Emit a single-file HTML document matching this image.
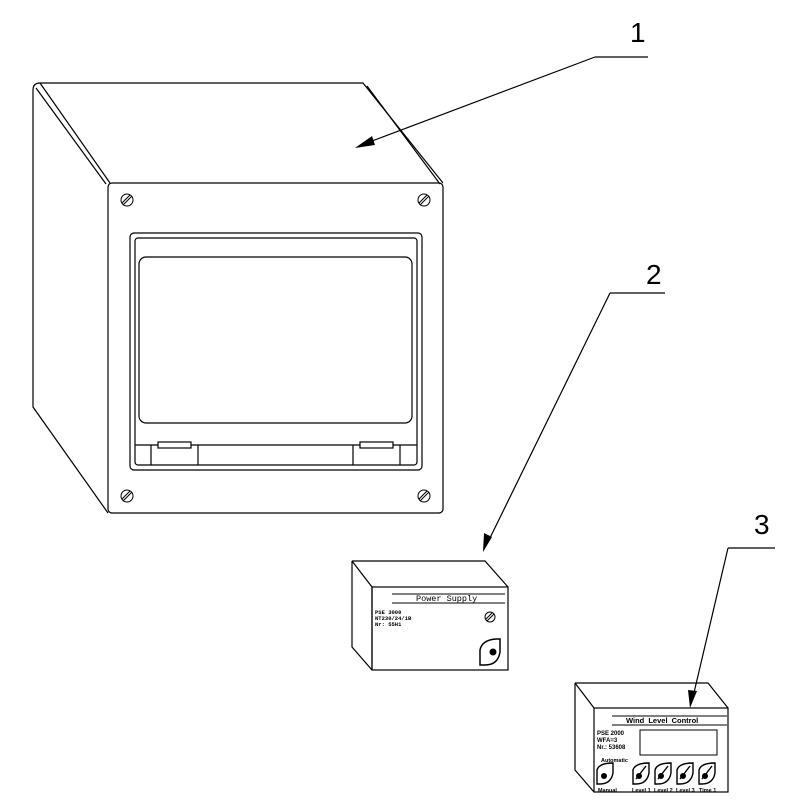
<!DOCTYPE html>
<html><head><style>body{margin:0;background:#fff}svg{display:block}</style></head><body>
<svg width="800" height="800" viewBox="0 0 800 800" xmlns="http://www.w3.org/2000/svg" font-family="Liberation Sans, sans-serif">
<g fill="none" stroke="#000" stroke-width="1.2">
<path d="M33,90 Q33,83 40,83 L363,83 L443,183"/>
<path d="M40,83 L110,183"/>
<path d="M36,88 L106,184"/>
<path d="M367,86 L440,184"/>
<path d="M33,90 L33,407 L108,513"/>
<rect x="108" y="183" width="335" height="330" rx="4"/>
<rect x="130" y="233" width="292" height="237" rx="4"/>
<rect x="135" y="238" width="282" height="227" rx="3"/>
<rect x="139" y="257" width="273" height="166" rx="7"/>
<path d="M135,445 L417,445 M151,445 L151,465 M198,445 L198,465 M353,445 L353,465 M400,445 L400,465"/>
<rect x="158" y="442" width="33" height="6" fill="#fff"/>
<rect x="360" y="442" width="33" height="6" fill="#fff"/>
<g stroke-width="1">
<circle cx="127" cy="200" r="6"/><path d="M123,205 L132,196 M122,203 L130,195"/>
<circle cx="424" cy="200" r="6"/><path d="M420,205 L429,196 M419,203 L427,195"/>
<circle cx="127" cy="496" r="6"/><path d="M123,501 L132,492 M122,499 L130,491"/>
<circle cx="424" cy="496" r="6"/><path d="M420,501 L429,492 M419,499 L427,491"/>
</g>
<path d="M595,57 L648,57 M595,57 L372,141"/>
<path d="M610,293 L665,293 M610,293 L487,544"/>
<path d="M728,548 L775,548 M728,548 L693,697"/>
<path d="M352,561 L485,561 L508,587 M352,561 L372,587 L372,670 M352,561 L352,647 L372,670"/>
<rect x="372" y="587" width="136" height="83"/>
<path d="M392,594 L505,594 M392,603 L505,603" stroke-width="1"/>
<circle cx="490" cy="617" r="5" stroke-width="1"/><path d="M487,621 L494,614 M486,619 L492,613" stroke-width="1"/>
<path d="M480,665 L480,650 Q482,640 496,639 L500,639 L500,652 Q498,665 485,665 Z" stroke-width="1.5"/>
<path d="M575,683 L708,683 L728,708 M575,683 L594,708 M575,683 L575,770 L594,792"/>
<rect x="594" y="708" width="134" height="84"/>
<path d="M612,716 L727,716 M612,725 L727,725" stroke-width="1"/>
<rect x="640" y="730" width="77" height="25" stroke-width="1"/>
</g>
<g fill="#000">
<polygon points="355,148 372,136 375,145"/>
<polygon points="483,552 484,533 492,537"/>
<polygon points="690,708 688,690 697,691"/>
<circle cx="493" cy="652" r="3.5"/>
</g>
<g stroke="#000" stroke-width="1.4" fill="none">
<path d="M597,784 L597,770 Q599,763 613,763 L613,773 Q611,784 600,784 Z"/>
<path d="M633,784 L633,770 Q635,763 649,763 L649,773 Q647,784 636,784 Z M636,779 L646,766"/>
<path d="M655,784 L655,770 Q657,763 671,763 L671,773 Q669,784 658,784 Z M658,779 L668,766"/>
<path d="M677,784 L677,770 Q679,763 693,763 L693,773 Q691,784 680,784 Z M680,779 L690,766"/>
<path d="M699,784 L699,770 Q701,763 715,763 L715,773 Q713,784 702,784 Z M702,779 L712,766"/>
</g>
<g fill="#000">
<circle cx="604" cy="776" r="3"/><circle cx="639" cy="776" r="3"/><circle cx="661" cy="776" r="3"/><circle cx="683" cy="776" r="3"/><circle cx="705" cy="776" r="3"/>
</g>
<g fill="#000" font-size="28">
<text x="630" y="42">1</text>
<text x="646" y="284">2</text>
<text x="754" y="534">3</text>
</g>
<g fill="#000" font-family="Liberation Mono, monospace">
<text x="416" y="601" font-size="8.5">Power Supply</text>
<text x="375" y="614" font-size="5.5" font-weight="bold">PSE 3000</text>
<text x="375" y="620" font-size="5.5" font-weight="bold">NT230/24/1B</text>
<text x="375" y="626" font-size="5.5" font-weight="bold">Nr: 55H1</text>
</g>
<g fill="#000" font-weight="bold">
<text x="626" y="723" font-size="7.5" word-spacing="2">Wind Level Control</text>
<text x="597" y="735" font-size="6">PSE 2000</text>
<text x="597" y="742" font-size="6">WFA=3</text>
<text x="597" y="749" font-size="6">Nr.: 53608</text>
<text x="601" y="762" font-size="5.5">Automatic</text>
<text x="598" y="792" font-size="5.5">Manual</text>
<text x="632" y="792" font-size="5.5">Level 1</text>
<text x="654" y="792" font-size="5.5">Level 2</text>
<text x="676" y="792" font-size="5.5">Level 3</text>
<text x="699" y="792" font-size="5.5">Time 1</text>
</g>
</svg>
</body></html>
